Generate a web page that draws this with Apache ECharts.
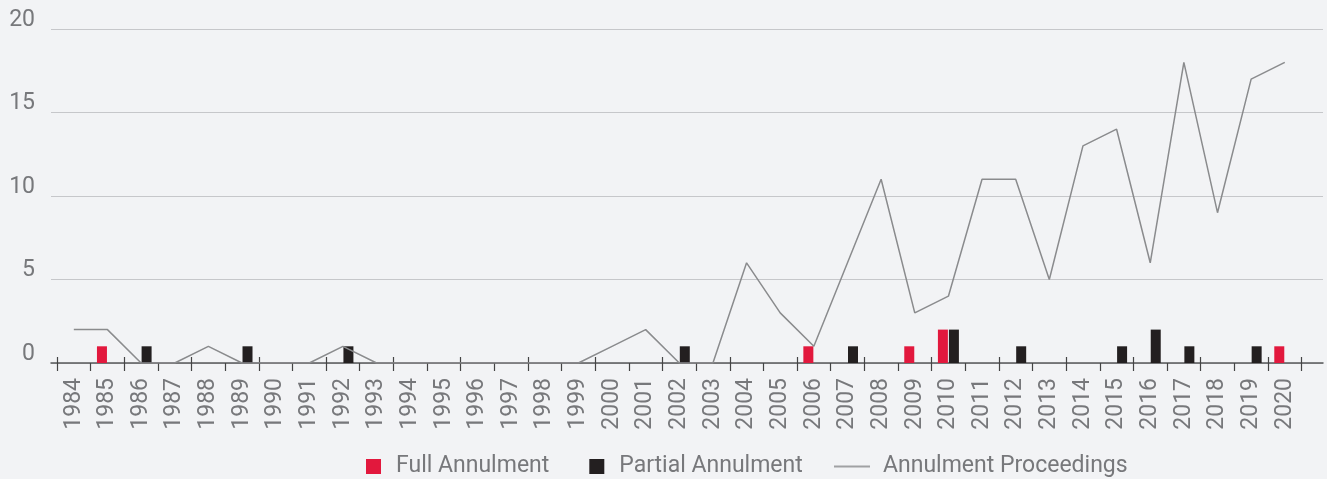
<!DOCTYPE html>
<html>
<head>
<meta charset="utf-8">
<script src="https://cdn.jsdelivr.net/npm/echarts@6/dist/echarts.min.js"></script>
<style>
  html, body { margin: 0; padding: 0; background: #f2f3f5; }
  #chart { width: 1327px; height: 479px; }
</style>
</head>
<body>
<div id="chart"></div>
<script>
// 年份
var years = ['1984','1985','1986','1987','1988','1989','1990','1991','1992','1993',
  '1994','1995','1996','1997','1998','1999','2000','2001','2002','2003','2004',
  '2005','2006','2007','2008','2009','2010','2011','2012','2013','2014','2015',
  '2016','2017','2018','2019','2020'];
var fullAnnulment = [0,1,0,0,0,0,0,0,0,0, 0,0,0,0,0,0,0,0,0,0,0, 0,1,0,0,1,2,0,0,0,0,0, 0,0,0,0,1];
var partialAnnulment = [0,0,1,0,0,1,0,0,1,0, 0,0,0,0,0,0,0,0,1,0,0, 0,0,1,0,0,2,0,1,0,0,1, 2,1,0,1,0];
var proceedings = [2,2,0,0,1,0,0,0,1,0, 0,0,0,0,0,0,1,2,0,0,6, 3,1,6,11,3,4,11,11,5,13,14, 6,18,9,17,18];
var yTicks = [0, 5, 10, 15, 20];

var font = 'Roboto';
var fontSize = 23;
var labelColor = '#77787b';

var myChart = echarts.init(document.getElementById('chart'));
var option = {
  backgroundColor: '#f2f3f5',
  textStyle: { fontFamily: font },
  // grid 0: 网格线和y轴标签, grid 1: 柱子和折线
  grid: [
    { left: 51, right: 4, top: 29, bottom: 116 },
    { left: 57, right: 25.4, top: 29, bottom: 116 }
  ],
  legend: [
    {
      left: 366, top: 455, padding: 0,
      itemWidth: 15, itemHeight: 15, itemGap: 40,
      icon: 'rect',
      textStyle: { fontSize: fontSize, color: labelColor, fontFamily: font, padding: [0, 0, 0, 10] },
      data: ['Full Annulment', 'Partial Annulment']
    },
    {
      left: 834, top: 455, padding: 0,
      itemWidth: 36, itemHeight: 2,
      icon: 'rect',
      textStyle: { fontSize: fontSize, color: labelColor, fontFamily: font, padding: [0, 0, 0, 8] },
      data: ['Annulment Proceedings']
    }
  ],
  xAxis: [
    {
      gridIndex: 0, type: 'value', min: 0, max: 1,
      axisLine: { show: true, lineStyle: { color: '#58595b', width: 1.5 } },
      axisTick: { show: false }, axisLabel: { show: false }, splitLine: { show: false }
    },
    {
      gridIndex: 1, type: 'category', data: years, position: 'bottom',
      axisLine: { show: false },
      axisTick: { show: true, length: 8, lineStyle: { color: '#444', width: 1.2 } },
      axisLabel: { rotate: 90, margin: 15, fontSize: fontSize, color: labelColor, fontFamily: font }
    },
    {
      gridIndex: 1, type: 'category', data: years, position: 'bottom',
      axisLine: { show: false },
      axisTick: { show: true, inside: true, length: 6, lineStyle: { color: '#444', width: 1.2 } },
      axisLabel: { show: false }
    }
  ],
  yAxis: [
    {
      gridIndex: 0, type: 'value', min: yTicks[0], max: yTicks[yTicks.length - 1], interval: 5,
      axisLine: { show: false }, axisTick: { show: false },
      axisLabel: {
        margin: 16, fontSize: fontSize, lineHeight: 18, color: labelColor, fontFamily: font,
        verticalAlign: 'bottom'
      },
      splitLine: { lineStyle: { color: '#c6c7ca', width: 1 } }
    },
    {
      gridIndex: 1, type: 'value', min: yTicks[0], max: yTicks[yTicks.length - 1], interval: 5,
      show: false, splitLine: { show: false }
    }
  ],
  series: [
    {
      name: 'Full Annulment', type: 'bar', xAxisIndex: 1, yAxisIndex: 1,
      data: fullAnnulment, barWidth: 10, barGap: '10%',
      itemStyle: { color: '#e2183d' }
    },
    {
      name: 'Partial Annulment', type: 'bar', xAxisIndex: 1, yAxisIndex: 1,
      data: partialAnnulment, barWidth: 10,
      itemStyle: { color: '#231f20' }
    },
    {
      name: 'Annulment Proceedings', type: 'line', xAxisIndex: 1, yAxisIndex: 1,
      data: proceedings, symbol: 'none', z: 5,
      lineStyle: { color: '#8a8b8d', width: 1.5 },
      itemStyle: { color: '#a0a1a3' }
    }
  ]
};
myChart.setOption(option);
</script>
</body>
</html>
